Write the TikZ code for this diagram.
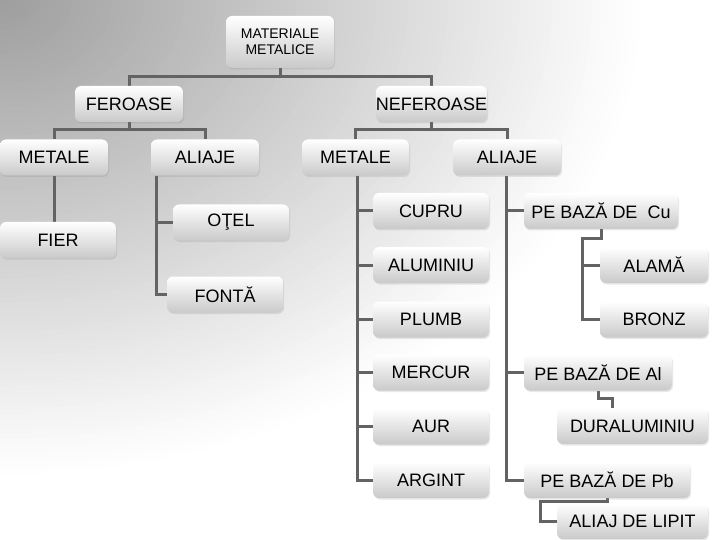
\documentclass[tikz,border=0pt]{standalone}
\usepackage{fontspec}
\setmainfont{Liberation Sans}
\usetikzlibrary{shadows}
\pgfdeclarelayer{back}
\pgfdeclarelayer{mid}
\pgfsetlayers{back,mid,main}
\definecolor{linec}{gray}{0.39}
\tikzset{
  box/.style={rounded corners=6pt, top color=white, bottom color=black!21,
    minimum height=36pt, inner sep=0pt, text=black,
    font=\fontsize{18}{20}\selectfont,
    drop shadow={shadow xshift=1pt, shadow yshift=-1.5pt, opacity=0.18}},
  conn/.style={draw=linec, line width=3pt}
}
\begin{document}
\begin{tikzpicture}[x=1pt,y=-1pt]
\useasboundingbox (0,0) rectangle (720,540);
\begin{pgfonlayer}{back}
  \fill[white] (0,0) rectangle (720,540);
  \begin{scope}
    \clip (0,0) rectangle (720,540);
    \foreach \r in {640,632,...,8} {
      \pgfmathsetmacro\g{min(1,0.62+0.0006*(\r-4))}
      \definecolor{bgtmp}{gray}{\g}
      \fill[bgtmp] (0,0) ellipse [x radius=\r, y radius=\r/1.35];
    }
  \end{scope}
\end{pgfonlayer}
% nodes
\node[box, minimum width=108pt, minimum height=52pt, align=center,
  font=\fontsize{14}{16.5}\selectfont] (mat) at (280,42) {MATERIALE\\METALICE};
\node[box, minimum width=108pt] (fer) at (129,104) {FEROASE};
\node[box, minimum width=109pt] (nefer) at (431.5,104) {NEFEROASE};
\node[box, minimum width=108pt] (metL) at (54,157.5) {METALE};
\node[box, minimum width=108pt] (aliL) at (205,157.5) {ALIAJE};
\node[box, minimum width=107pt] (metR) at (355.5,157.5) {METALE};
\node[box, minimum width=108pt] (aliR) at (507,157.5) {ALIAJE};
\node[box, minimum width=116pt] (fier) at (58,240) {FIER};
\node[box, minimum width=116pt] (otel) at (231,222.5) {OŢEL};
\node[box, minimum width=116pt] (fonta) at (225,294.5) {FONTĂ};
\node[box, minimum width=116pt] (cupru) at (431,211) {CUPRU};
\node[box, minimum width=116pt] (alum) at (431,265) {ALUMINIU};
\node[box, minimum width=116pt] (plumb) at (431,319.5) {PLUMB};
\node[box, minimum width=116pt] (mercur) at (431,372.5) {MERCUR};
\node[box, minimum width=116pt] (aur) at (431,426.5) {AUR};
\node[box, minimum width=116pt] (argint) at (431,480) {ARGINT};
\node[box, minimum width=154pt] (pecu) at (601,211) {PE BAZĂ DE \ Cu};
\node[box, minimum width=108pt] (alama) at (654,265) {ALAMĂ};
\node[box, minimum width=108pt] (bronz) at (654,319.5) {BRONZ};
\node[box, minimum width=148pt] (peal) at (598,372.5) {PE BAZĂ DE Al};
\node[box, minimum width=151pt] (dural) at (632.5,426) {DURALUMINIU};
\node[box, minimum width=166pt] (pepb) at (607,480) {PE BAZĂ DE Pb};
\node[box, minimum width=151pt, minimum height=35pt] (lipit) at (632.5,521.5) {ALIAJ DE LIPIT};
% connectors
\begin{pgfonlayer}{mid}
  \draw[conn] (mat.south) -- (mat.south |- 0,77) -| (fer.north);
  \draw[conn] (mat.south |- 0,77) -| (nefer.north);
  \draw[conn] (fer.south) -- (fer.south |- 0,130) -| (metL.north);
  \draw[conn] (fer.south |- 0,130) -| (aliL.north);
  \draw[conn] (nefer.south) -- (nefer.south |- 0,130) -| (metR.north);
  \draw[conn] (nefer.south |- 0,130) -| (aliR.north);
  \draw[conn] (metL.south) -- (metL.south |- fier.north);
  \coordinate (aL) at (156,176);
  \draw[conn] (aL) |- (otel.west);
  \draw[conn] (aL) |- (fonta.west);
  \foreach \n in {cupru,alum,plumb,mercur,aur,argint}
    \draw[conn] ([xshift=1.5pt]metR.south) |- (\n.west);
  \foreach \n in {pecu,peal,pepb}
    \draw[conn] ([xshift=-1pt]aliR.south) |- (\n.west);
  \coordinate (cuj) at (582,238);
  \draw[conn] (pecu.south) |- (cuj) |- (bronz.west);
  \draw[conn] (cuj) |- (alama.west);
  \draw[conn] (peal.south) |- (612,398) -- (612,0 |- dural.north);
  \coordinate (pbj) at (540,501);
  \draw[conn] (pepb.south) |- (pbj) |- (lipit.west);
\end{pgfonlayer}
\end{tikzpicture}
\end{document}
